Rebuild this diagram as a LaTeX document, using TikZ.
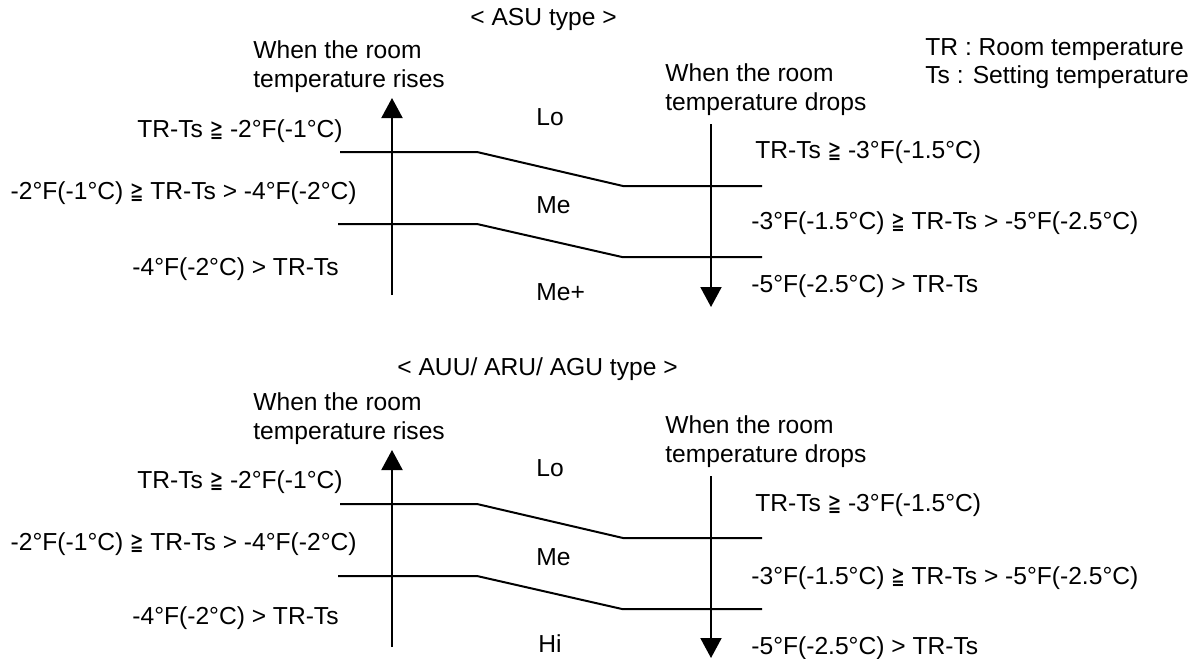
\documentclass[tikz,border=0pt]{standalone}
\usepackage{fontspec}
\setmainfont{Liberation Sans}
\newfontfamily\symfont{DejaVu Sans}
\usepackage{graphicx}
\usetikzlibrary{arrows.meta}

\newcommand{\gqq}{{\symfont\scalebox{0.65}[1.0]{≧}}}

\tikzset{
  txt/.style={font=\fontsize{12.3}{14.5}\selectfont, inner sep=0pt},
  lvl/.style={line width=1pt},
  axis/.style={line width=1pt, -{Triangle[width=10.5pt,length=10pt]}}
}

\begin{document}
\begin{tikzpicture}[x=0.5pt,y=-0.5pt]
  \useasboundingbox (0,0) rectangle (1190,659);

  % legend
  \node[txt, anchor=base west] (legTR) at (925,55) {TR : Room temperature};
  \node[txt, anchor=base west] (legTs) at (925,83) {Ts : Setting temperature};

  % ASU type
  \begin{scope}
    \node[txt, anchor=base west] (title) at (470,25) {< ASU type >};
    \node[txt, anchor=base west] (riseA) at (253,58) {When the room};
    \node[txt, anchor=base west] (riseB) at (253,87) {temperature rises};
    \node[txt, anchor=base west] (dropA) at (665,81) {When the room};
    \node[txt, anchor=base west] (dropB) at (665,110) {temperature drops};

    \coordinate (upS) at (392,295);
    \coordinate (upE) at (392,98);
    \coordinate (dnS) at (711,124);
    \coordinate (dnE) at (711,307);
    \draw[axis] (upS) -- (upE);
    \draw[axis] (dnS) -- (dnE);

    \draw[lvl] (340,152) -- (477,152) -- (623,186) -- (762,186);
    \draw[lvl] (338,224) -- (477,224) -- (622,257) -- (762,257);

    \node[txt, anchor=base east] (upL1) at (343,137) {TR-Ts \gqq{} -2°F(-1°C)};
    \node[txt, anchor=base east] (upL2) at (357,199) {-2°F(-1°C) \gqq{} TR-Ts > -4°F(-2°C)};
    \node[txt, anchor=base east] (upL3) at (339,275) {-4°F(-2°C) > TR-Ts};

    \node[txt, anchor=base west] (dnL1) at (755,158) {TR-Ts \gqq{} -3°F(-1.5°C)};
    \node[txt, anchor=base west] (dnL2) at (751,229) {-3°F(-1.5°C) \gqq{} TR-Ts > -5°F(-2.5°C)};
    \node[txt, anchor=base west] (dnL3) at (751,292) {-5°F(-2.5°C) > TR-Ts};

    \node[txt, anchor=base west] (lo) at (536,125) {Lo};
    \node[txt, anchor=base west] (me) at (536,213) {Me};
    \node[txt, anchor=base west] (mep) at (536,300) {Me+};
  \end{scope}

  % AUU/ ARU/ AGU type
  \begin{scope}[shift={(0,352)}]
    \node[txt, anchor=base west] (title2) at (397,23) {< AUU/ ARU/ AGU type >};
    \node[txt, anchor=base west] (riseA2) at (253,58) {When the room};
    \node[txt, anchor=base west] (riseB2) at (253,87) {temperature rises};
    \node[txt, anchor=base west] (dropA2) at (665,81) {When the room};
    \node[txt, anchor=base west] (dropB2) at (665,110) {temperature drops};

    \coordinate (upS2) at (392,295);
    \coordinate (upE2) at (392,98);
    \coordinate (dnS2) at (711,124);
    \coordinate (dnE2) at (711,306);
    \draw[axis] (upS2) -- (upE2);
    \draw[axis] (dnS2) -- (dnE2);

    \draw[lvl] (340,152) -- (477,152) -- (623,186) -- (762,186);
    \draw[lvl] (338,224) -- (477,224) -- (622,257) -- (762,257);

    \node[txt, anchor=base east] (upM1) at (343,136) {TR-Ts \gqq{} -2°F(-1°C)};
    \node[txt, anchor=base east] (upM2) at (357,198) {-2°F(-1°C) \gqq{} TR-Ts > -4°F(-2°C)};
    \node[txt, anchor=base east] (upM3) at (339,272) {-4°F(-2°C) > TR-Ts};

    \node[txt, anchor=base west] (dnM1) at (755,159) {TR-Ts \gqq{} -3°F(-1.5°C)};
    \node[txt, anchor=base west] (dnM2) at (751,232) {-3°F(-1.5°C) \gqq{} TR-Ts > -5°F(-2.5°C)};
    \node[txt, anchor=base west] (dnM3) at (751,302) {-5°F(-2.5°C) > TR-Ts};

    \node[txt, anchor=base west] (lo2) at (536,124) {Lo};
    \node[txt, anchor=base west] (me2) at (536,213) {Me};
    \node[txt, anchor=base west] (hi2) at (538,300) {Hi};
  \end{scope}
\end{tikzpicture}
\end{document}
